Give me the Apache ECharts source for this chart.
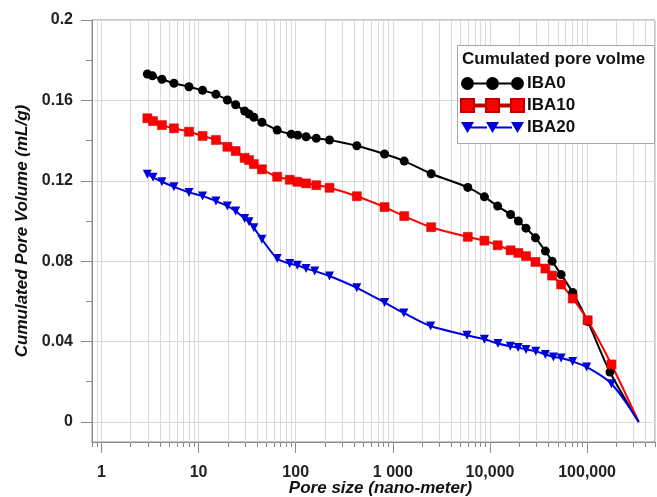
<!DOCTYPE html>
<html lang="en">
<head>
    <meta charset="utf-8">
    <title>Cumulated pore volume</title>
    <script src="https://cdn.jsdelivr.net/npm/echarts@6/dist/echarts.min.js"></script>
    <style>
        html, body { margin: 0; padding: 0; background: #fff; }
        #chart { width: 657px; height: 497px; }
    </style>
</head>
<body>
<div id="chart"></div>
<script type="text/javascript">
    // pore size (nm) and cumulated volume (mL/g)
    var iba0Size = [2.97, 3.35, 4.2, 5.58, 7.97, 11.0, 15.1, 19.8, 24.1, 29.8, 33.1, 37.1, 44.9, 64.5, 90, 105, 128, 163, 223,
        426, 822, 1310, 2480, 5910, 8770, 12000, 16300, 19600, 23500, 29400, 37200, 43600, 54000, 71100, 101400, 172000, 340000];
    var iba0Vol = [0.1731, 0.1722, 0.1705, 0.1685, 0.1668, 0.1650, 0.1630, 0.1602, 0.1578, 0.1547, 0.1532, 0.1516, 0.1491, 0.1452,
        0.1432, 0.1427, 0.1419, 0.1411, 0.1403, 0.1374, 0.1333, 0.1298, 0.1235, 0.1167, 0.1120, 0.1074, 0.1032, 0.1000, 0.0964,
        0.0916, 0.0850, 0.0800, 0.0733, 0.0644, 0.0500, 0.0248, 0];

    var iba10Size = [2.97, 3.4, 4.2, 5.58, 7.97, 11.0, 15.1, 19.8, 24.1, 29.8, 33.1, 37.1, 44.9, 64.5, 86.8, 104, 128, 163, 223,
        426, 822, 1310, 2480, 5910, 8770, 12000, 16300, 19600, 23500, 29400, 37200, 43600, 54000, 71100, 101400, 178000, 340000];
    var iba10Vol = [0.1511, 0.1497, 0.1477, 0.1461, 0.1444, 0.1423, 0.1403, 0.1369, 0.1348, 0.1314, 0.1303, 0.1283, 0.1257, 0.1220,
        0.1205, 0.1195, 0.1187, 0.1178, 0.1165, 0.1123, 0.1069, 0.1024, 0.0969, 0.0921, 0.0902, 0.0879, 0.0854, 0.0841, 0.0825,
        0.0796, 0.0763, 0.0728, 0.0684, 0.0614, 0.0506, 0.0286, 0];

    var iba20Size = [2.97, 3.4, 4.2, 5.58, 7.97, 11.0, 15.1, 19.8, 24.1, 29.8, 33.1, 37.1, 44.9, 64.5, 86.8, 104, 128, 157, 223,
        426, 822, 1300, 2450, 5800, 8770, 12100, 16200, 19500, 23500, 29600, 37200, 45000, 54000, 71100, 99000, 178000, 340000];
    var iba20Vol = [0.1233, 0.1217, 0.1195, 0.1170, 0.1142, 0.1124, 0.1099, 0.1074, 0.1049, 0.1012, 0.0996, 0.0966, 0.0909, 0.0813,
        0.0788, 0.0780, 0.0763, 0.0751, 0.0726, 0.0667, 0.0594, 0.0542, 0.0477, 0.0431, 0.0411, 0.0390, 0.0376, 0.0370, 0.0360,
        0.0351, 0.0336, 0.0323, 0.0318, 0.0301, 0.0273, 0.0190, 0];

    var xMajorTicks = [1, 10, 100, 1000, 10000, 100000];
    var xTickLabels = ['1', '10', '100', '1 000', '10,000', '100,000'];
    var yMajorTicks = [0, 0.04, 0.08, 0.12, 0.16, 0.2];
    var yMinorTicks = [0.02, 0.06, 0.1, 0.14, 0.18];

    var FONT = 'Liberation Sans, Arial, sans-serif';
    var GRID_COLOR = '#dadada';
    var AXIS_COLOR = '#8c8c8c';

    // every 1..9 x 10^n inside the axis range, for the log grid lines
    var xAllTicks = [0.8, 0.9];
    for (var p = 0; p <= 5; p++) {
        for (var m = 1; m <= 9; m++) {
            var v = m * Math.pow(10, p);
            if (v <= 500000) xAllTicks.push(v);
        }
    }

    function makePoints(xs, ys) {
        var out = [];
        for (var i = 0; i < xs.length; i++) {
            var item = {value: [xs[i], ys[i]]};
            if (ys[i] === 0) item.symbol = 'none';
            out.push(item);
        }
        return out;
    }

    var circleIcon = 'path://M0,6.5a6.5,6.5 0 1,0 13,0a6.5,6.5 0 1,0 -13,0Z' +
        'M25,6.5a6.5,6.5 0 1,0 13,0a6.5,6.5 0 1,0 -13,0Z' +
        'M50,6.5a6.5,6.5 0 1,0 13,0a6.5,6.5 0 1,0 -13,0Z' +
        'M13,5.5h12v2h-12Z M38,5.5h12v2h-12Z';
    var squareIcon = 'path://M0,0h13v13h-13Z M25,0h13v13h-13Z M50,0h13v13h-13Z' +
        'M13,5.5h12v2h-12Z M38,5.5h12v2h-12Z';
    var triangleIcon = 'path://M0,1h13l-6.5,11Z M25,1h13l-6.5,11Z M50,1h13l-6.5,11Z' +
        'M9,5.5h17v2h-17Z M34,5.5h17v2h-17Z M0,0h0.01v13h-0.01Z';

    var myChart = echarts.init(document.getElementById('chart'), null, {renderer: 'canvas'});

    var option = {
        animation: false,
        backgroundColor: '#fff',
        textStyle: {fontFamily: FONT},
        grid: {
            left: 92, right: 2, top: 20, bottom: 55,
            outerBoundsMode: 'none',
            containLabel: false,
            show: true, borderColor: AXIS_COLOR, borderWidth: 1
        },
        graphic: [
            {
                type: 'rect', left: 457, top: 45, z: 3,
                shape: {width: 197, height: 98},
                style: {fill: '#fff', stroke: '#a6a6a6', lineWidth: 1}
            },
            {
                type: 'text', left: 462, top: 51, z: 5,
                style: {text: 'Cumulated pore volme', fill: '#111', font: 'bold 17px ' + FONT}
            }
        ],
        legend: {
            orient: 'vertical',
            left: 457, top: 75, z: 5,
            padding: [0, 0, 0, 3],
            itemWidth: 63, itemHeight: 13, itemGap: 5,
            textStyle: {fontSize: 17, fontWeight: 'bold', color: '#111', fontFamily: FONT, padding: [0, 0, 0, -2]},
            data: [
                {name: 'IBA0', icon: circleIcon},
                {name: 'IBA10', icon: squareIcon},
                {name: 'IBA20', icon: triangleIcon}
            ]
        },
        xAxis: [
            {
                type: 'log', min: 0.8, max: 500000, logBase: 10,
                position: 'bottom',
                axisLine: {onZero: false, lineStyle: {color: AXIS_COLOR, width: 1}},
                axisTick: {show: true, customValues: xAllTicks, length: 5, lineStyle: {color: AXIS_COLOR}},
                axisLabel: {show: false},
                splitLine: {show: true, lineStyle: {color: GRID_COLOR, width: 1}},
                minorTick: {show: false},
                minorSplitLine: {show: false}
            },
            {
                type: 'log', min: 0.8, max: 500000, logBase: 10,
                position: 'bottom',
                name: 'Pore size (nano-meter)',
                nameLocation: 'middle', nameGap: 38, nameMoveOverlap: false,
                nameTextStyle: {fontSize: 17, fontWeight: 'bold', fontStyle: 'italic', color: '#111', fontFamily: FONT, padding: [0, 0, 0, 14]},
                axisLine: {show: false, onZero: false},
                axisTick: {show: true, customValues: xMajorTicks, length: 11, lineStyle: {color: AXIS_COLOR}},
                axisLabel: {
                    show: true, customValues: xMajorTicks, margin: 23,
                    fontSize: 16, fontWeight: 'bold', color: '#222', fontFamily: FONT,
                    formatter: function (val) {
                        for (var i = 0; i < xMajorTicks.length; i++) {
                            if (Math.abs(val - xMajorTicks[i]) < xMajorTicks[i] * 1e-6) return xTickLabels[i];
                        }
                        return '';
                    }
                },
                splitLine: {show: false}
            }
        ],
        yAxis: [
            {
                type: 'value', min: -0.01, max: 0.2,
                name: 'Cumulated Pore Volume (mL/g)',
                nameLocation: 'middle', nameGap: 61, nameRotate: 90, nameMoveOverlap: false,
                nameTextStyle: {fontSize: 17, fontWeight: 'bold', fontStyle: 'italic', color: '#111', fontFamily: FONT},
                axisLine: {show: true, onZero: false, lineStyle: {color: AXIS_COLOR, width: 1}},
                axisTick: {show: true, customValues: yMajorTicks, length: 11, lineStyle: {color: AXIS_COLOR}},
                axisLabel: {
                    show: true, customValues: yMajorTicks, margin: 19,
                    fontSize: 16, fontWeight: 'bold', color: '#222', fontFamily: FONT,
                    formatter: function (val) {
                        return String(Math.round(val * 100) / 100);
                    }
                },
                splitLine: {show: true, lineStyle: {color: GRID_COLOR, width: 1}}
            },
            {
                type: 'value', min: -0.01, max: 0.2,
                position: 'left',
                axisLine: {show: false, onZero: false},
                axisTick: {show: true, customValues: yMinorTicks, length: 6, lineStyle: {color: AXIS_COLOR}},
                axisLabel: {show: false},
                splitLine: {show: false}
            }
        ],
        series: [
            {
                name: 'IBA0', type: 'line', smooth: 0.3,
                symbol: 'circle', symbolSize: 9,
                color: '#000',
                lineStyle: {width: 2, color: '#000'},
                data: makePoints(iba0Size, iba0Vol)
            },
            {
                name: 'IBA10', type: 'line', smooth: 0.3,
                symbol: 'rect', symbolSize: 9,
                color: '#ff0000',
                itemStyle: {color: '#ff0000', borderColor: '#c00000', borderWidth: 0.5},
                lineStyle: {width: 2, color: '#ff0000'},
                data: makePoints(iba10Size, iba10Vol)
            },
            {
                name: 'IBA20', type: 'line', smooth: 0.3,
                symbol: 'triangle', symbolRotate: 180, symbolSize: 9,
                color: '#0000dd',
                lineStyle: {width: 2, color: '#0000dd'},
                data: makePoints(iba20Size, iba20Vol)
            }
        ]
    };

    myChart.setOption(option);

    window.addEventListener('resize', function () {
        myChart.resize();
    });
</script>
</body>
</html>
